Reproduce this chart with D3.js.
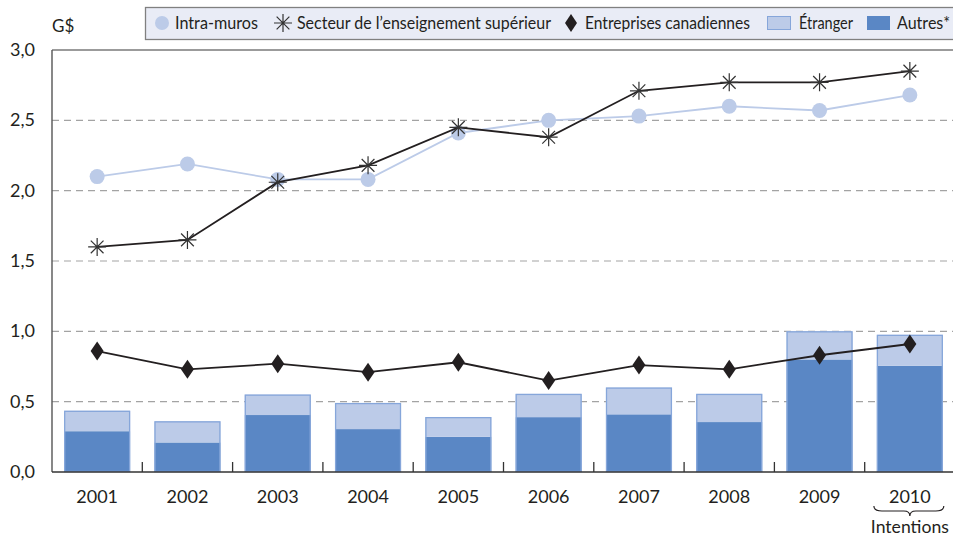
<!DOCTYPE html>
<html>
<head>
<meta charset="utf-8">
<script src="https://cdn.jsdelivr.net/npm/d3@7"></script>
<style>
  html, body { margin: 0; padding: 0; background: #fff; }
  svg { display: block; font-family: Lato, "Open Sans", sans-serif; }
</style>
</head>
<body>
<svg id="chart" width="953" height="537"></svg>
<script>
const YEARS = ["2001", "2002", "2003", "2004", "2005", "2006", "2007", "2008", "2009", "2010"];
const AUTRES = [0.29, 0.21, 0.405, 0.305, 0.25, 0.39, 0.41, 0.355, 0.80, 0.755];
const ETRANGER = [0.145, 0.15, 0.145, 0.185, 0.14, 0.165, 0.19, 0.20, 0.20, 0.22];
const INTRA_MUROS = [2.10, 2.19, 2.08, 2.08, 2.41, 2.50, 2.53, 2.60, 2.57, 2.68];
const ENSEIGNEMENT = [1.60, 1.65, 2.06, 2.18, 2.45, 2.38, 2.71, 2.77, 2.77, 2.85];
const ENTREPRISES = [0.86, 0.73, 0.77, 0.71, 0.78, 0.65, 0.76, 0.73, 0.83, 0.91];
const Y_TICKS = [0, 0.5, 1, 1.5, 2, 2.5, 3];

const COLOR_DARK = "#5a87c5";
const COLOR_LIGHT = "#bccbe8";
const COLOR_EDGE = "#86a6da";
const INK = "#231f20";

const svg = d3.select("#chart");
const plot = { left: 52, right: 955, top: 50, bottom: 472 };

const x = d3.scaleBand().domain(YEARS).range([plot.left, plot.right])
  .paddingInner(0.27).paddingOuter(0.135);
const y = d3.scaleLinear().domain([0, 3]).range([plot.bottom, plot.top]);
const cx = yr => x(yr) + x.bandwidth() / 2;

// dashed gridlines
svg.append("g").selectAll("line")
  .data(Y_TICKS.filter(t => t > 0 && t < 3))
  .join("line")
  .attr("x1", plot.left).attr("x2", 953)
  .attr("y1", d => y(d)).attr("y2", d => y(d))
  .attr("stroke", "#a3a3a3").attr("stroke-width", 1.2)
  .attr("stroke-dasharray", "7,5");

// y axis labels
const fmt = d => d3.format(".1f")(d).replace(".", ",");
svg.append("g").selectAll("text")
  .data(Y_TICKS)
  .join("text")
  .attr("x", 35).attr("y", d => y(d) + 6)
  .attr("text-anchor", "end")
  .attr("font-size", 18).attr("fill", INK)
  .text(fmt);

svg.append("text").attr("x", 52).attr("y", 32)
  .attr("font-size", 17).attr("fill", INK).text("G$");

// stacked bars
const stackRows = YEARS.map((yr, i) => ({ year: yr, autres: AUTRES[i], etranger: ETRANGER[i] }));
const series = d3.stack().keys(["autres", "etranger"])(stackRows);
const barFill = { autres: COLOR_DARK, etranger: COLOR_LIGHT };

const bars = svg.append("g");
series.forEach(s => {
  bars.selectAll(null)
    .data(s)
    .join("rect")
    .attr("x", d => x(d.data.year))
    .attr("y", d => y(d[1]))
    .attr("width", x.bandwidth())
    .attr("height", d => y(d[0]) - y(d[1]))
    .attr("fill", barFill[s.key]);
});
// bar outline
bars.selectAll(null)
  .data(stackRows)
  .join("rect")
  .attr("x", d => x(d.year) + 0.5)
  .attr("y", d => y(d.autres + d.etranger) + 0.5)
  .attr("width", x.bandwidth() - 1)
  .attr("height", d => y(0) - y(d.autres + d.etranger) - 1)
  .attr("fill", "none").attr("stroke", COLOR_EDGE).attr("stroke-width", 1.3);

// frame
svg.append("line").attr("x1", plot.left).attr("x2", 953)
  .attr("y1", plot.top).attr("y2", plot.top)
  .attr("stroke", "#7a7a7a").attr("stroke-width", 1.6);
svg.append("line").attr("x1", plot.left).attr("x2", plot.left)
  .attr("y1", plot.top).attr("y2", plot.bottom)
  .attr("stroke", "#555").attr("stroke-width", 1.4);
svg.append("line").attr("x1", plot.left).attr("x2", 953)
  .attr("y1", plot.bottom).attr("y2", plot.bottom)
  .attr("stroke", "#333").attr("stroke-width", 1.6);

// category separators
const step = x.step();
svg.append("g").selectAll("line")
  .data(YEARS.slice(1))
  .join("line")
  .attr("x1", d => x(d) - (step - x.bandwidth()) / 2)
  .attr("x2", d => x(d) - (step - x.bandwidth()) / 2)
  .attr("y1", plot.bottom).attr("y2", plot.bottom - 10)
  .attr("stroke", "#333").attr("stroke-width", 1.3);

// year labels
svg.append("g").selectAll("text")
  .data(YEARS)
  .join("text")
  .attr("x", d => cx(d)).attr("y", 503)
  .attr("text-anchor", "middle")
  .attr("font-size", 18).attr("fill", INK)
  .text(d => d);

// brace under 2010
const bx0 = x("2010") - 3, bx1 = x("2010") + x.bandwidth() + 1, bm = cx("2010");
const by = 506;
svg.append("path")
  .attr("d", `M${bx0},${by} Q${bx0},${by + 5} ${bx0 + 8},${by + 5} L${bm - 6},${by + 5} Q${bm},${by + 5} ${bm},${by + 10} Q${bm},${by + 5} ${bm + 6},${by + 5} L${bx1 - 8},${by + 5} Q${bx1},${by + 5} ${bx1},${by}`)
  .attr("fill", "none").attr("stroke", INK).attr("stroke-width", 1.2);
svg.append("text").attr("x", bm).attr("y", 533)
  .attr("text-anchor", "middle").attr("font-size", 17).attr("fill", INK)
  .attr("textLength", 78).attr("lengthAdjust", "spacingAndGlyphs")
  .text("Intentions");

// lines
const lineGen = vals => d3.line().x((d, i) => cx(YEARS[i])).y(d => y(d))(vals);

svg.append("path").attr("d", lineGen(INTRA_MUROS))
  .attr("fill", "none").attr("stroke", COLOR_LIGHT).attr("stroke-width", 1.8);
svg.append("g").selectAll("circle")
  .data(INTRA_MUROS)
  .join("circle")
  .attr("cx", (d, i) => cx(YEARS[i])).attr("cy", d => y(d))
  .attr("r", 7.5).attr("fill", COLOR_LIGHT);

svg.append("path").attr("d", lineGen(ENTREPRISES))
  .attr("fill", "none").attr("stroke", INK).attr("stroke-width", 1.8);
const diamond = (px, py, w, h) => `M${px},${py - h} L${px + w},${py} L${px},${py + h} L${px - w},${py} Z`;
svg.append("g").selectAll("path")
  .data(ENTREPRISES)
  .join("path")
  .attr("d", (d, i) => diamond(cx(YEARS[i]), y(d), 6.5, 9.5))
  .attr("fill", INK);

svg.append("path").attr("d", lineGen(ENSEIGNEMENT))
  .attr("fill", "none").attr("stroke", INK).attr("stroke-width", 1.8);
const star = (px, py, r) => {
  const a = r * Math.SQRT1_2;
  return `M${px - r},${py} L${px + r},${py} M${px},${py - r} L${px},${py + r} ` +
    `M${px - a},${py - a} L${px + a},${py + a} M${px - a},${py + a} L${px + a},${py - a}`;
};
svg.append("g").selectAll("path")
  .data(ENSEIGNEMENT)
  .join("path")
  .attr("d", (d, i) => star(cx(YEARS[i]), y(d), 9))
  .attr("fill", "none").attr("stroke", "#333").attr("stroke-width", 1.2);

// legend
const legend = svg.append("g");
legend.append("rect").attr("x", 145.5).attr("y", 7.5).attr("width", 820).attr("height", 32)
  .attr("fill", "#e9ecf6").attr("stroke", "#808080").attr("stroke-width", 1.3);
const ly = 23;
const legText = (tx, label, w) => legend.append("text").attr("x", tx).attr("y", ly + 6)
  .attr("font-size", 17).attr("fill", INK)
  .attr("textLength", w).attr("lengthAdjust", "spacingAndGlyphs")
  .text(label);
legend.append("circle").attr("cx", 162).attr("cy", ly).attr("r", 7).attr("fill", COLOR_LIGHT);
legText(175, "Intra-muros", 83);
legend.append("path").attr("d", star(283, ly, 9))
  .attr("fill", "none").attr("stroke", "#333").attr("stroke-width", 1.2);
legText(297, "Secteur de l\u2019enseignement supérieur", 254);
legend.append("path").attr("d", diamond(571, ly, 6, 9)).attr("fill", INK);
legText(585, "Entreprises canadiennes", 165);
legend.append("rect").attr("x", 767.5).attr("y", 16.5).attr("width", 23).attr("height", 13)
  .attr("fill", COLOR_LIGHT).attr("stroke", COLOR_EDGE);
legText(799, "Étranger", 54);
legend.append("rect").attr("x", 867).attr("y", 16).attr("width", 23).attr("height", 14)
  .attr("fill", COLOR_DARK);
legText(897, "Autres*", 53);
</script>
</body>
</html>
